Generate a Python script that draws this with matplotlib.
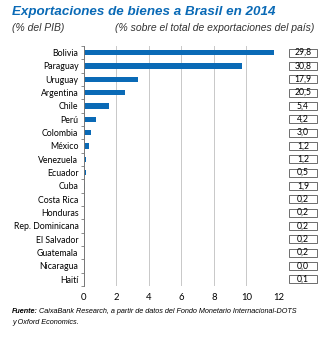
import matplotlib.pyplot as plt
import matplotlib.transforms as mtransforms
from matplotlib.patches import Rectangle
import numpy as np

plt.rcParams['font.family'] = ['Lato', 'DejaVu Sans']
ITAL = ['Liberation Sans', 'DejaVu Sans']

# Exportaciones de bienes a Brasil (% del PIB) y cuota sobre el total exportado
paises = ['Bolivia', 'Paraguay', 'Uruguay', 'Argentina', 'Chile', 'Perú',
          'Colombia', 'México', 'Venezuela', 'Ecuador', 'Cuba', 'Costa Rica',
          'Honduras', 'Rep. Dominicana', 'El Salvador', 'Guatemala',
          'Nicaragua', 'Haití']
pct_pib = [11.7, 9.7, 3.3, 2.55, 1.55, 0.75, 0.42, 0.33, 0.15, 0.12,
           0.08, 0.05, 0.03, 0.03, 0.03, 0.03, 0.01, 0.02]
pct_export = ['29,8', '30,8', '17,9', '20,5', '5,4', '4,2', '3,0', '1,2',
              '1,2', '0,5', '1,9', '0,2', '0,2', '0,2', '0,2', '0,2',
              '0,0', '0,1']
xticks = [0, 2, 4, 6, 8, 10, 12]

AZUL = '#0a6ab6'

fig = plt.figure(figsize=(3.35, 3.38), dpi=100)
ax = fig.add_axes([0.2507, 0.154, 0.5821, 0.71])

y = np.arange(len(paises))
ax.barh(y, pct_pib, height=0.4, color=AZUL, zorder=3)
ax.set_ylim(len(paises) - 0.5, -0.5)
ax.set_xlim(0, 12)
ax.set_yticks(y)
ax.set_yticklabels(paises, fontsize=6.3)
ax.set_yticks(np.arange(len(paises) + 1) - 0.5, minor=True)
ax.tick_params(axis='y', which='major', length=0, pad=4)
ax.tick_params(axis='y', which='minor', length=2.5, width=0.6, color='#777777')
ax.set_xticks(xticks)
ax.set_xticklabels([str(t) for t in xticks], fontsize=6.8)
ax.tick_params(axis='x', length=0, pad=5)

ax.grid(True, axis='x', color='#c8c8c8', linewidth=0.7, zorder=0)
for s in ['top', 'right', 'bottom']:
    ax.spines[s].set_visible(False)
ax.spines['left'].set_color('#777777')
ax.spines['left'].set_linewidth(0.7)
ax.spines['left'].set_zorder(4)

# cajas con el % sobre el total de exportaciones
trans = mtransforms.blended_transform_factory(ax.transAxes, ax.transData)
for yi, txt in zip(y, pct_export):
    r = Rectangle((1.051, yi - 0.3), 0.144, 0.6, transform=trans,
                  facecolor='white', edgecolor='#555555', linewidth=0.6,
                  clip_on=False)
    ax.add_patch(r)
    ax.text(1.123, yi, txt, transform=trans, ha='center', va='center',
            fontsize=6.2, clip_on=False)

fig.text(0.036, 0.965, 'Exportaciones de bienes a Brasil en 2014',
         color=AZUL, fontsize=9.6, fontweight='bold', style='italic',
         va='center', family=ITAL)
fig.text(0.036, 0.917, '(% del PIB)', fontsize=7.5, style='italic',
         va='center', color='#333333', family=ITAL)
fig.text(0.343, 0.917, '(% sobre el total de exportaciones del país)',
         fontsize=7.5, style='italic', va='center', color='#333333',
         family=ITAL)

fig.text(0.036, 0.077, 'Fuente:', fontsize=5.2, fontweight='bold',
         style='italic', va='center', family=ITAL)
fig.text(0.117, 0.077,
         'CaixaBank Research, a partir de datos del Fondo Monetario Internacional-DOTS',
         fontsize=5.2, style='italic', va='center', family=ITAL)
fig.text(0.036, 0.047, 'y Oxford Economics.', fontsize=5.2, style='italic',
         va='center', family=ITAL)

fig.savefig('out.png', dpi=100)
